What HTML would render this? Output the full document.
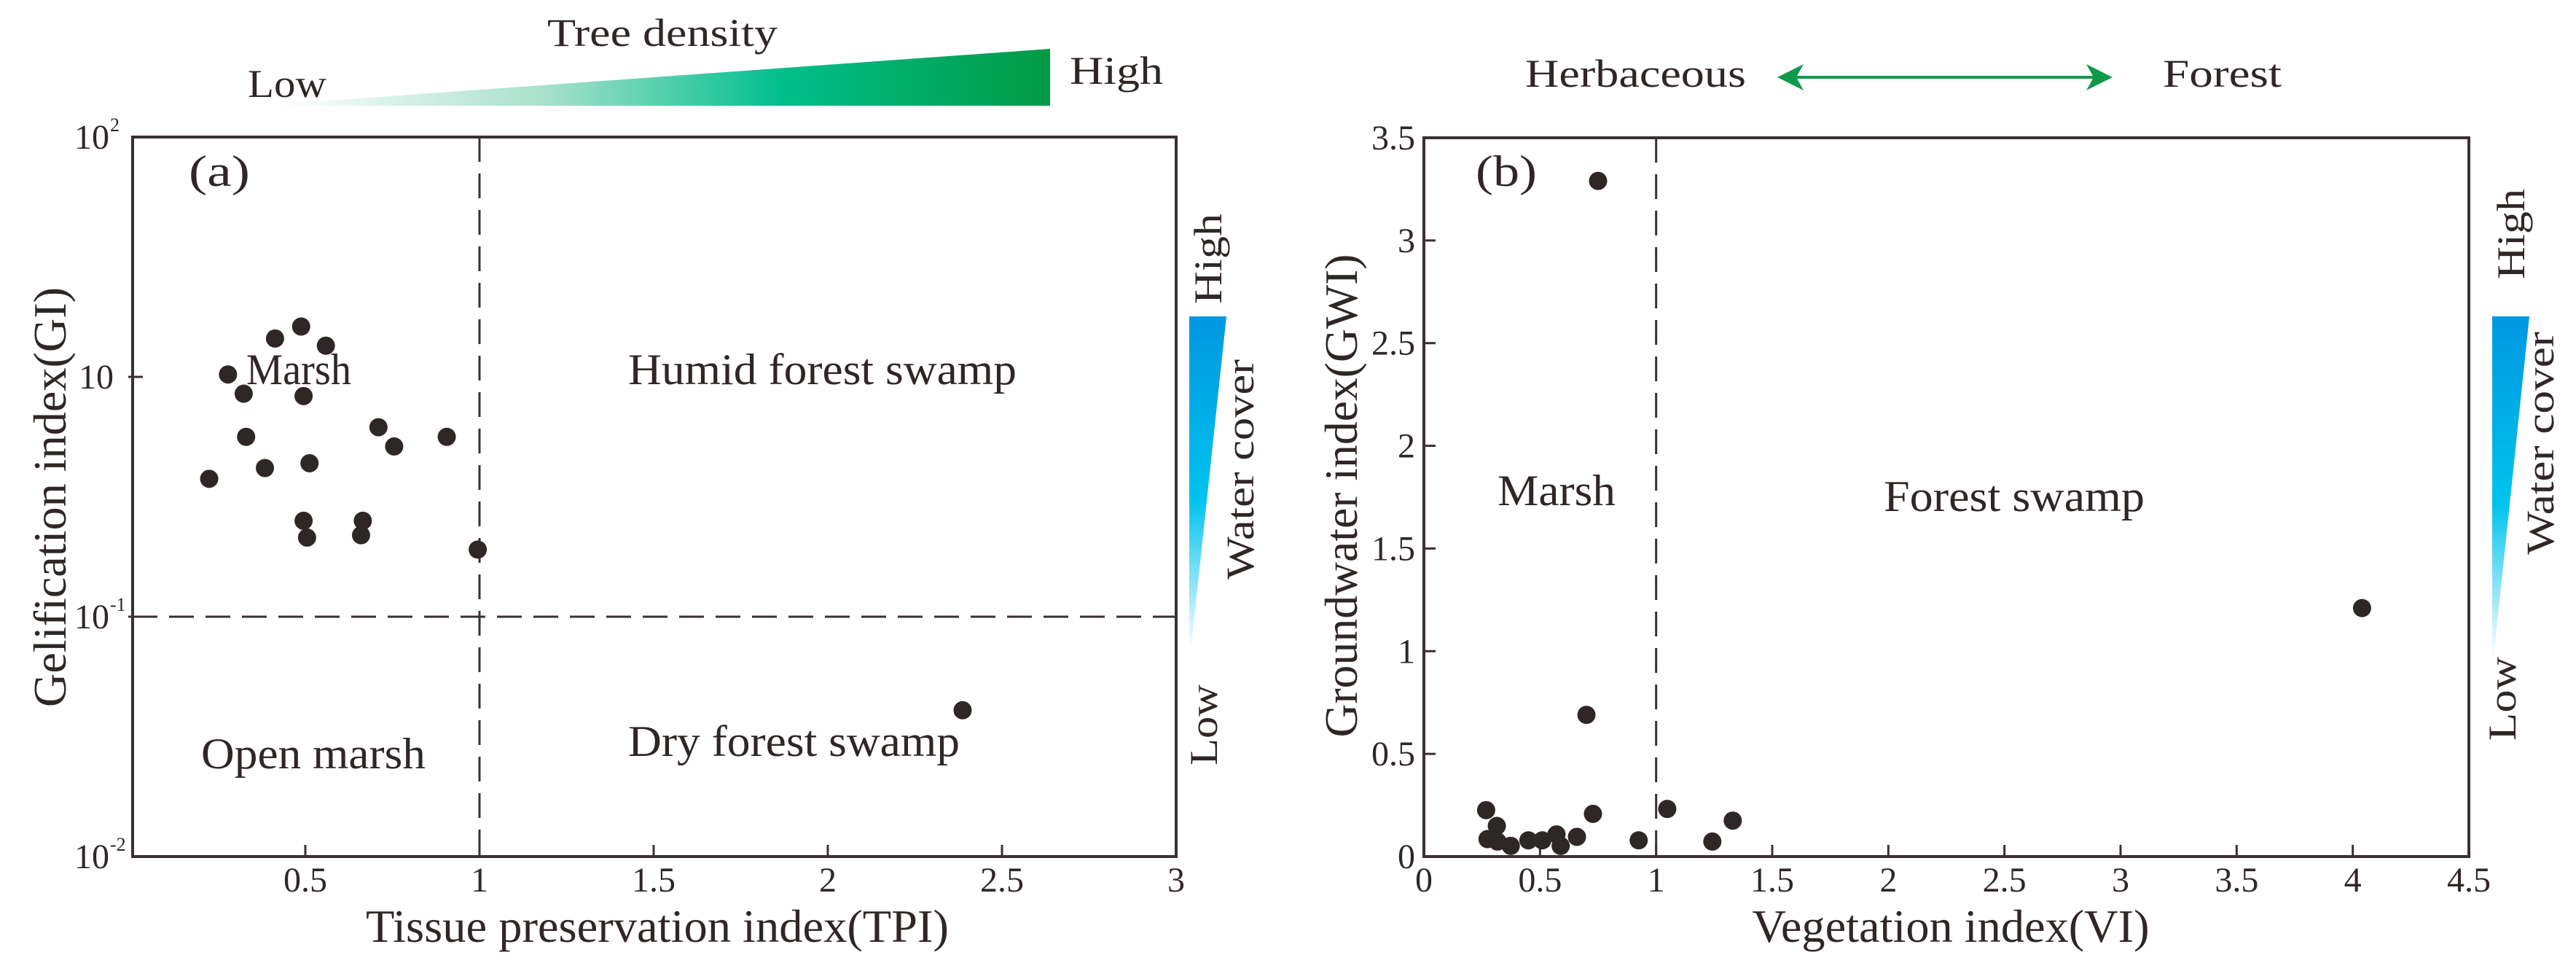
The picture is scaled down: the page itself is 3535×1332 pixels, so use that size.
<!DOCTYPE html>
<html><head><meta charset="utf-8"><style>
html,body{margin:0;padding:0;background:#fff;}
svg{display:block;font-family:"Liberation Serif",serif;}
text{fill:#2f2726;}
</style></head><body>
<svg id="fig" width="3535" height="1332" viewBox="0 0 3535 1332" xmlns="http://www.w3.org/2000/svg">
<defs>
<linearGradient id="gTree" x1="0" y1="0" x2="1" y2="0">
<stop offset="0" stop-color="#ffffff"/><stop offset="0.35" stop-color="#a6e0cb"/><stop offset="0.65" stop-color="#00bf8c"/><stop offset="1" stop-color="#009a44"/>
</linearGradient>
<linearGradient id="gWater" x1="0" y1="1" x2="0" y2="0">
<stop offset="0" stop-color="#ffffff"/><stop offset="0.45" stop-color="#00c3ee"/><stop offset="1" stop-color="#0097e0"/>
</linearGradient>
</defs>
<g id="top-deco">
<polygon points="380,143 1441,67 1441,145 380,145" fill="url(#gTree)"/>
<text x="340" y="133" font-size="54" textLength="108" lengthAdjust="spacingAndGlyphs">Low</text>
<text x="751" y="63" font-size="54" textLength="316" lengthAdjust="spacingAndGlyphs">Tree density</text>
<text x="1468" y="115" font-size="54" textLength="128" lengthAdjust="spacingAndGlyphs">High</text>
<text x="2093" y="119" font-size="54" textLength="303" lengthAdjust="spacingAndGlyphs">Herbaceous</text>
<text x="2968" y="119" font-size="54" textLength="163" lengthAdjust="spacingAndGlyphs">Forest</text>
<g>
<line x1="2455" y1="106" x2="2883" y2="106" stroke="#0f9a4a" stroke-width="4"/>
<polygon points="2439,106 2475,88 2465,106 2475,124" fill="#0f9a4a"/>
<polygon points="2899,106 2863,88 2873,106 2863,124" fill="#0f9a4a"/>
</g>
<polygon points="1632,434 1683,434 1634,893 1632,893" fill="url(#gWater)"/>
<text transform="translate(1676,417) rotate(-90)" font-size="54" textLength="124" lengthAdjust="spacingAndGlyphs">High</text>
<text transform="translate(1720,795) rotate(-90)" font-size="54" textLength="302" lengthAdjust="spacingAndGlyphs">Water cover</text>
<text transform="translate(1670,1050) rotate(-90)" font-size="54" textLength="111" lengthAdjust="spacingAndGlyphs">Low</text>
<polygon points="3420,434 3471,434 3422,901 3420,901" fill="url(#gWater)"/>
<text transform="translate(3464,383) rotate(-90)" font-size="54" textLength="124" lengthAdjust="spacingAndGlyphs">High</text>
<text transform="translate(3504,761) rotate(-90)" font-size="54" textLength="306" lengthAdjust="spacingAndGlyphs">Water cover</text>
<text transform="translate(3452,1016) rotate(-90)" font-size="54" textLength="115" lengthAdjust="spacingAndGlyphs">Low</text>
</g>
<g id="pa"></g>
<g id="pb"></g>
</svg>
<script>
// Chart (a): TPI vs GI (y in equal-spaced level units: 0=10^-2,1=10^-1,2=10,3=10^2)
const aTPI = [0.224,0.278,0.323,0.413,0.488,0.559,0.495,0.330,0.384,0.512,0.495,0.505,0.665,0.660,0.710,0.755,0.906,0.995,2.387];
const aGI  = [1.575,2.01,1.93,2.16,2.21,2.13,1.92,1.75,1.62,1.64,1.40,1.33,1.40,1.34,1.79,1.71,1.75,1.28,0.61];
const aXTicks = [0.5,1,1.5,2,2.5,3];
const aXTickLabels = ["0.5","1","1.5","2","2.5","3"];
const aYTicks = [0,1,2,3];
const aYTickBase = ["10","10","10","10"];
const aYTickExp = ["-2","-1","","2"];
// Chart (b): VI vs GWI
const bVI  = [0.75,0.70,4.04,0.268,0.314,0.274,0.317,0.374,0.45,0.51,0.571,0.589,0.659,0.728,0.925,1.048,1.242,1.33];
const bGWI = [3.29,0.69,1.21,0.226,0.149,0.085,0.073,0.052,0.079,0.079,0.108,0.052,0.096,0.208,0.079,0.232,0.073,0.175];
const bXTicks = [0,0.5,1,1.5,2,2.5,3,3.5,4,4.5];
const bXTickLabels = ["0","0.5","1","1.5","2","2.5","3","3.5","4","4.5"];
const bYTicks = [0,0.5,1,1.5,2,2.5,3,3.5];
const bYTickLabels = ["0","0.5","1","1.5","2","2.5","3","3.5"];

const NS="http://www.w3.org/2000/svg";
const INK="#3a3030";
function mk(parent,tag,attrs,txt){const e=document.createElementNS(NS,tag);for(const k in attrs)e.setAttribute(k,attrs[k]);if(txt!==undefined)e.textContent=txt;parent.appendChild(e);return e;}

// ---------- Chart A ----------
const A={L:182,R:1614,T:188,B:1175};
const ax=v=>180+v*478;
const ay=v=>A.B-(v/3)*(A.B-A.T);
const ga=document.getElementById('pa');
let fa=mk(ga,'rect',{x:A.L,y:A.T,width:A.R-A.L,height:A.B-A.T,fill:'none',stroke:INK,'stroke-width':4});


aXTicks.forEach((t,i)=>{
  if(t<3){let tk=mk(ga,'line',{x1:ax(t),x2:ax(t),y1:A.B,y2:A.B-16,stroke:INK,'stroke-width':3});
  
  }
  let lb=mk(ga,'text',{x:ax(t),y:1223,'font-size':48,'text-anchor':'middle'},aXTickLabels[i]);
  
  
});
aYTicks.forEach((t,i)=>{
  if(t>0&&t<3){let tk=mk(ga,'line',{x1:A.L-6,x2:A.L+14,y1:ay(t),y2:ay(t),stroke:INK,'stroke-width':3});
  
  }
  const hasExp=aYTickExp[i]!=="";
  let lb=mk(ga,'text',{x:hasExp?150:156,y:ay(t)+16,'font-size':48,'text-anchor':'end'},aYTickBase[i]);
  
  
  if(hasExp){let ex=mk(ga,'text',{x:151,y:ay(t)-8,'font-size':26,'text-anchor':'start'},aYTickExp[i]);
  
  }
});
let dva=mk(ga,'line',{x1:ax(1),x2:ax(1),y1:A.T,y2:A.B,stroke:INK,'stroke-width':3,'stroke-dasharray':'34,16'});


let dha=mk(ga,'line',{x1:A.L,x2:A.R,y1:ay(1),y2:ay(1),stroke:INK,'stroke-width':3,'stroke-dasharray':'34,16'});


[["(a)",259,255,84,"panel-label-a"],["Marsh",338,527,144,"region-marsh-a"],["Humid forest swamp",862,527,533,"region-humid-forest-swamp"],["Open marsh",276,1054,308,"region-open-marsh"],["Dry forest swamp",862,1037,455,"region-dry-forest-swamp"]].forEach(r=>{
  let t=mk(ga,'text',{x:r[1],y:r[2],'font-size':60,textLength:r[3],lengthAdjust:'spacingAndGlyphs'},r[0]);
  
  
});
aTPI.forEach((v,i)=>{
  let c=mk(ga,'circle',{cx:ax(v),cy:ay(aGI[i]),r:12.5,fill:'#2f2626'});
  
  
});
let xta=mk(ga,'text',{x:902,y:1292,'font-size':64,'text-anchor':'middle',textLength:800,lengthAdjust:'spacingAndGlyphs'},"Tissue preservation index(TPI)");


let yta=mk(ga,'text',{transform:'translate(90,682) rotate(-90)','font-size':64,'text-anchor':'middle',textLength:576,lengthAdjust:'spacingAndGlyphs'},"Gelification index(GI)");



// ---------- Chart B ----------
const B={L:1954,R:3388,T:189,B:1175};
const bx=v=>B.L+(v/4.5)*(B.R-B.L);
const by=v=>B.B-(v/3.5)*(B.B-B.T);
const gb=document.getElementById('pb');
let fb=mk(gb,'rect',{x:B.L,y:B.T,width:B.R-B.L,height:B.B-B.T,fill:'none',stroke:INK,'stroke-width':4});


bXTicks.forEach((t,i)=>{
  if(t>0&&t<4.5){let tk=mk(gb,'line',{x1:bx(t),x2:bx(t),y1:B.B,y2:B.B-16,stroke:INK,'stroke-width':3});
  
  }
  let lb=mk(gb,'text',{x:bx(t),y:1223,'font-size':48,'text-anchor':'middle'},bXTickLabels[i]);
  
  
});
bYTicks.forEach((t,i)=>{
  if(t>0&&t<3.5){let tk=mk(gb,'line',{x1:B.L,x2:B.L+16,y1:by(t),y2:by(t),stroke:INK,'stroke-width':3});
  
  }
  let lb=mk(gb,'text',{x:1942,y:by(t)+16,'font-size':48,'text-anchor':'end'},bYTickLabels[i]);
  
  
});
let dvb=mk(gb,'line',{x1:bx(1),x2:bx(1),y1:B.T,y2:B.B,stroke:INK,'stroke-width':3,'stroke-dasharray':'34,16'});


[["(b)",2025,255,84,"panel-label-b"],["Marsh",2055,693,162,"region-marsh-b"],["Forest swamp",2585,701,358,"region-forest-swamp"]].forEach(r=>{
  let t=mk(gb,'text',{x:r[1],y:r[2],'font-size':60,textLength:r[3],lengthAdjust:'spacingAndGlyphs'},r[0]);
  
  
});
bVI.forEach((v,i)=>{
  let c=mk(gb,'circle',{cx:bx(v),cy:by(bGWI[i]),r:12.5,fill:'#2f2626'});
  
  
});
let xtb=mk(gb,'text',{x:2677,y:1292,'font-size':64,'text-anchor':'middle',textLength:545,lengthAdjust:'spacingAndGlyphs'},"Vegetation index(VI)");


let ytb=mk(gb,'text',{transform:'translate(1862,680) rotate(-90)','font-size':64,'text-anchor':'middle',textLength:663,lengthAdjust:'spacingAndGlyphs'},"Groundwater index(GWI)");


</script>
</body></html>
